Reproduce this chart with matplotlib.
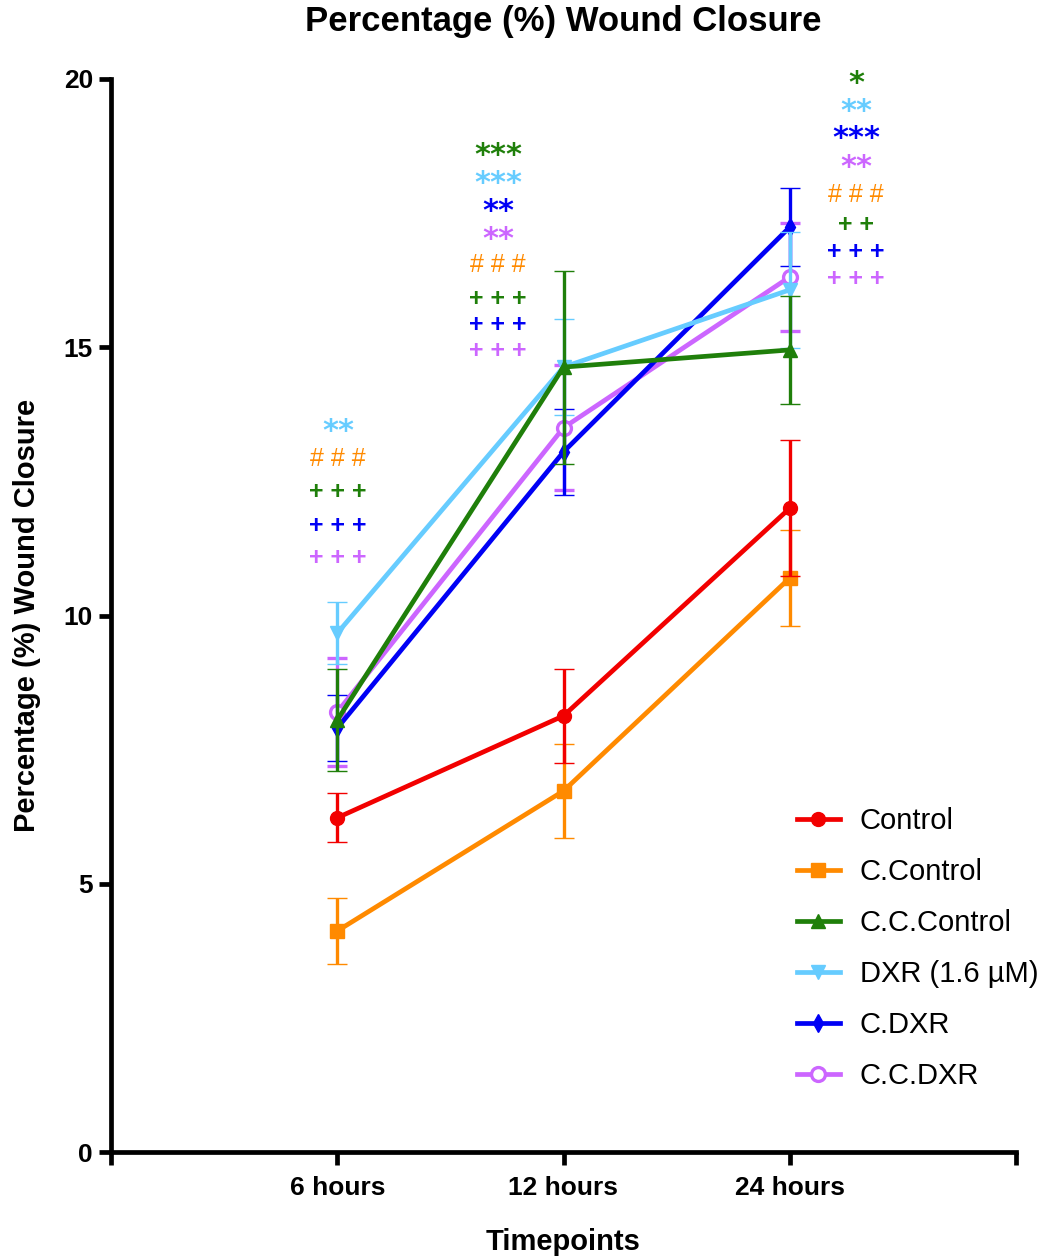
import matplotlib
matplotlib.use("Agg")
import matplotlib.pyplot as plt
from matplotlib.lines import Line2D

plt.rcParams['font.family'] = ['Liberation Sans', 'DejaVu Sans']

timepoints = ["6 hours", "12 hours", "24 hours"]
x_pos = [1, 2, 3]

series_names = ["Control", "C.Control", "C.C.Control", "DXR (1.6 µM)", "C.DXR", "C.C.DXR"]
control = [6.23, 8.13, 12.0]
control_err = [0.46, 0.88, 1.27]
c_control = [4.12, 6.73, 10.7]
c_control_err = [0.62, 0.87, 0.9]
cc_control = [8.05, 14.63, 14.95]
cc_control_err = [0.95, 1.8, 1.0]
dxr = [9.67, 14.63, 16.07]
dxr_err = [0.58, 0.9, 1.08]
c_dxr = [7.9, 13.05, 17.24]
c_dxr_err = [0.62, 0.8, 0.72]
cc_dxr = [8.2, 13.5, 16.31]
cc_dxr_err = [1.0, 1.16, 1.0]

values = [control, c_control, cc_control, dxr, c_dxr, cc_dxr]
errors = [control_err, c_control_err, cc_control_err, dxr_err, c_dxr_err, cc_dxr_err]
colors = ["#f20000", "#ff8a00", "#1f7f0a", "#66ccff", "#0000f5", "#cc66ff"]
markers = ["o", "s", "^", "v", "d", "o"]
filled = [True, True, True, True, True, False]

# significance annotations: (label, colour index of series)
ann_6h = [("**", 3), ("# # #", 1), ("+ + +", 2), ("+ + +", 4), ("+ + +", 5)]
ann_12h = [("***", 2), ("***", 3), ("**", 4), ("**", 5), ("# # #", 1),
           ("+ + +", 2), ("+ + +", 4), ("+ + +", 5)]
ann_24h = [("*", 2), ("**", 3), ("***", 4), ("**", 5), ("# # #", 1),
           ("+ +", 2), ("+ + +", 4), ("+ + +", 5)]

W, H = 1045, 1258
fig = plt.figure(figsize=(W / 100, H / 100), dpi=100)
ax = fig.add_axes([111 / W, 1 - 1152 / H, (1016 - 111) / W, (1152 - 79) / H])

n = len(series_names)
for i, (name, v, e, c, m, f) in enumerate(zip(series_names, values, errors, colors, markers, filled)):
    z = 10 + (n - i) * 2
    ax.errorbar(x_pos, v, yerr=e, color=c, ecolor=c, elinewidth=2.4, capsize=7,
                capthick=2.4, lw=3.4, marker=m,
                ms=10 if m != "d" else 9,
                mfc=c if f else "white", mec=c, mew=2.4 if not f else 1,
                zorder=z)

ax.set_xlim(0, 4)
ax.set_ylim(0, 20)
ax.set_xticks([0, 1, 2, 3, 4])
ax.set_xticklabels([""] + timepoints + [""])
ax.set_yticks([0, 5, 10, 15, 20])
for side in ["top", "right"]:
    ax.spines[side].set_visible(False)
for side in ["left", "bottom"]:
    ax.spines[side].set_linewidth(3.4)
ax.tick_params(axis="both", width=3.4, length=9, direction="out")
ax.tick_params(axis="x", pad=8)
ax.tick_params(axis="y", pad=4)
for lab in ax.get_xticklabels() + ax.get_yticklabels():
    lab.set_fontweight("bold")
    lab.set_fontsize(19)

fig.text(563 / W, 1 - 21 / H, "Percentage (%) Wound Closure", fontsize=25,
         fontweight="bold", ha="center", va="center")
ax.set_ylabel("Percentage (%) Wound Closure", fontsize=21, fontweight="bold")
ax.yaxis.set_label_coords(-(111 - 27) / (1016 - 111), 0.5)
ax.yaxis.label.set_va("center")
ax.set_xlabel("Timepoints", fontsize=21, fontweight="bold")
ax.xaxis.set_label_coords(0.5, -(1242 - 1152) / (1152 - 79))
ax.xaxis.label.set_va("center")


def place(xpx, ypxs, items):
    xc = (xpx - 111) / 226.25
    for (txt, ci), yp in zip(items, ypxs):
        col = colors[ci]
        if "*" in txt:
            yv = (1152 - (yp + 6)) / 53.65
            ax.text(xc, yv, txt, color=col, fontsize=22, fontweight="bold",
                    family="DejaVu Sans", ha="center", va="center", zorder=30)
        elif "#" in txt:
            yv = (1152 - (yp + 2)) / 53.65
            ax.text(xc, yv, txt, color=col, fontsize=18, ha="center", va="center", zorder=30)
        else:
            yv = (1152 - (yp + 3)) / 53.65
            ax.text(xc, yv, txt, color=col, fontsize=18, fontweight="bold",
                    ha="center", va="center", zorder=30)


place(338, [426, 457, 489, 523, 555], ann_6h)
place(498, [150, 178, 205, 233, 263, 296, 322, 348], ann_12h)
place(856, [78, 106, 133, 161, 193, 222, 249, 276], ann_24h)

handles = [Line2D([0], [0], color=c, lw=3.4, marker=m, ms=10 if m != "d" else 9,
                  mfc=c if f else "white", mec=c, mew=2.4 if not f else 1)
           for c, m, f in zip(colors, markers, filled)]
leg = fig.legend(handles, series_names, loc="upper left",
                 bbox_to_anchor=(797 / W, 1 - 807 / H), frameon=False,
                 fontsize=21, handlelength=1.47, handletextpad=0.68,
                 labelspacing=0.79, borderpad=0, borderaxespad=0)

fig.savefig("out.png", dpi=100)
